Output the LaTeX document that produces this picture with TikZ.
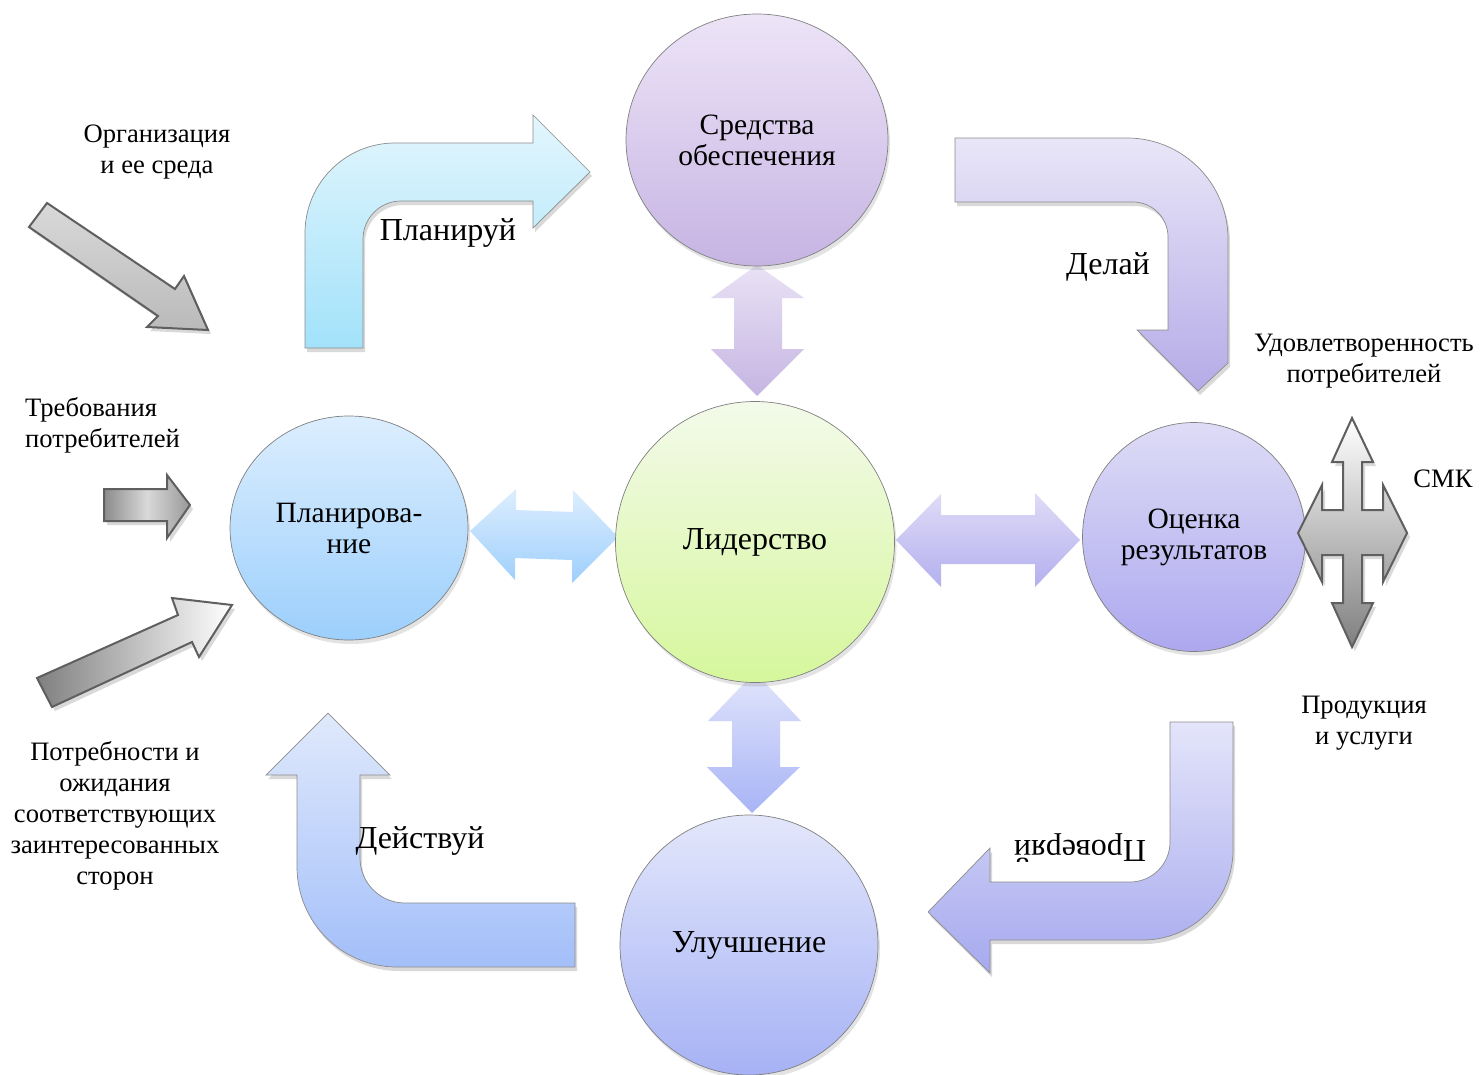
\documentclass[tikz,border=0pt]{standalone}
\usepackage{fontspec}
\setmainfont{Liberation Serif}
\usetikzlibrary{shapes.geometric,shadows}
\definecolor{sredT}{HTML}{EDE4F7}
\definecolor{sredB}{HTML}{C6B4E3}
\definecolor{lidT}{HTML}{F3FAEA}
\definecolor{lidB}{HTML}{D6F79C}
\definecolor{planT}{HTML}{DCEEFE}
\definecolor{planB}{HTML}{9CCFFC}
\definecolor{ocT}{HTML}{DEDCF6}
\definecolor{ocB}{HTML}{ADA8EF}
\definecolor{ulT}{HTML}{E3E7FB}
\definecolor{ulB}{HTML}{A6B2F5}
\definecolor{aTopT}{HTML}{E9E2F5}
\definecolor{aTopB}{HTML}{C5B5E2}
\definecolor{aLeftT}{HTML}{DDEEFE}
\definecolor{aLeftB}{HTML}{9ECFFC}
\definecolor{aRightT}{HTML}{DFDBF7}
\definecolor{aRightB}{HTML}{B4B0EE}
\definecolor{aBotT}{HTML}{E1E5FB}
\definecolor{aBotB}{HTML}{A8B4F6}
\definecolor{bPlanT}{HTML}{E3F6FD}
\definecolor{bPlanB}{HTML}{A2E2FA}
\definecolor{bDelT}{HTML}{E9E6F8}
\definecolor{bDelB}{HTML}{B5ABE7}
\definecolor{bProvT}{HTML}{E4E5FA}
\definecolor{bProvB}{HTML}{A6A9EE}
\definecolor{bDeiT}{HTML}{E0E9FC}
\definecolor{bDeiB}{HTML}{A3BFF9}
\definecolor{grayline}{HTML}{5F5F5F}
\begin{document}
\begin{tikzpicture}[x=1pt,y=-1pt,
  circ/.style={ellipse, draw=black!50, line width=0.7pt, inner sep=0pt, align=center,
    font=\fontsize{29.5}{31}\selectfont,
    drop shadow={opacity=0.22, shadow xshift=2pt, shadow yshift=-4pt}},
  lbl/.style={align=center, inner sep=0pt, font=\fontsize{26.6}{31}\selectfont},
  arrword/.style={inner sep=0pt, font=\fontsize{32}{32}\selectfont},
  bent/.style={draw=black!45, line width=0.7pt},
  shad/.style={fill=black, opacity=0.15},
  grayarr/.style={draw=grayline, line width=2pt, line join=miter}]
\useasboundingbox (0,0) rectangle (1480,1074);
\fill[white] (0,0) rectangle (1480,1074);

% ---------- bent arrows ----------
\def\pathPlan{(305,348) -- (305,233) .. controls (305,183.3) and (345.3,143) .. (395,143) -- (533,143) -- (533,115) -- (590,172) -- (533,228) -- (533,201) -- (401,201) .. controls (380,201) and (363,218) .. (363,239) -- (363,348) -- cycle}
\def\pathDel{(955,138) -- (1127,138) .. controls (1182.8,138) and (1228,183.2) .. (1228,239) -- (1228,363) -- (1198,391) -- (1137,330) -- (1168,330) -- (1168,237) .. controls (1168,217.7) and (1152.3,202) .. (1133,202) -- (955,202) -- cycle}
\def\pathProv{(1170,722) -- (1233,722) -- (1233,850) .. controls (1233,899.7) and (1192.7,940) .. (1143,940) -- (990,940) -- (990,973) -- (928,912) -- (990,848) -- (990,882) -- (1130,882) .. controls (1152.1,882) and (1170,864.1) .. (1170,842) -- cycle}
\def\pathDei{(328,713) -- (390,775) -- (360,775) -- (360,858) .. controls (360,882.9) and (380.1,903) .. (405,903) -- (575,903) -- (575,967) -- (397,967) .. controls (341.8,967) and (297,922.2) .. (297,867) -- (297,775) -- (266,775) -- cycle}

\fill[shad, shift={(2,4)}] \pathPlan;
\fill[shad, shift={(2,4)}] \pathDel;
\fill[shad, shift={(2,4)}] \pathProv;
\fill[shad, shift={(2,4)}] \pathDei;
\path[bent, top color=bPlanT, bottom color=bPlanB] \pathPlan;
\path[bent, top color=bDelT, bottom color=bDelB] \pathDel;
\path[bent, top color=bProvT, bottom color=bProvB] \pathProv;
\path[bent, top color=bDeiT, bottom color=bDeiB] \pathDei;

% ---------- double arrows ----------
\path[top color=aTopT, bottom color=aTopB]
  (757,265) -- (804,298) -- (782,298) -- (782,349) -- (804,349) -- (757,396) -- (711,349) -- (734,349) -- (734,298) -- (711,298) -- cycle;
\path[top color=aLeftT, bottom color=aLeftB]
  (470,531) -- (516,489) -- (516,510) -- (573,512) -- (573,490) -- (618,537) -- (572,583) -- (572,560) -- (515,558) -- (515,580) -- cycle;
\path[top color=aRightT, bottom color=aRightB]
  (896,540) -- (941,494) -- (941,515) -- (1035,515) -- (1035,493) -- (1080,540) -- (1035,587) -- (1035,564) -- (941,564) -- (941,587) -- cycle;
\path[top color=aBotT, bottom color=aBotB]
  (755,672) -- (801,721) -- (780,721) -- (780,767) -- (800,767) -- (752,813) -- (707,767) -- (732,767) -- (732,721) -- (708,721) -- cycle;

% ---------- circles ----------
\node[circ, top color=sredT, bottom color=sredB, minimum width=262pt, minimum height=252pt] (sred) at (757,140) {Средства\\обеспечения};
\node[circ, top color=lidT, bottom color=lidB, minimum width=279pt, minimum height=281pt, font=\fontsize{32}{32}\selectfont] (lid) at (755,542) {Лидерство};
\node[circ, top color=planT, bottom color=planB, minimum width=238pt, minimum height=224pt] (plan) at (349,528) {Планирова-\\ние};
\node[circ, top color=ocT, bottom color=ocB, minimum width=223pt, minimum height=229pt] (oc) at (1194,537) {Оценка\\результатов};
\node[circ, top color=ulT, bottom color=ulB, minimum width=258pt, minimum height=260pt, font=\fontsize{32}{32}\selectfont] (ul) at (749,945) {Улучшение};

% ---------- gray input arrows ----------
\def\pathGa{(29,227) -- (47,203) -- (175,289) -- (184,276) -- (208,330) -- (147,327) -- (158,316) -- cycle}
\def\pathGb{(104,489) -- (167,489) -- (167,475) -- (190,505) -- (167,538) -- (167,521) -- (104,521) -- cycle}
\def\pathGc{(37,678) -- (178,615) -- (172,598) -- (232,605) -- (199,657) -- (192,642) -- (52,707) -- cycle}
\def\pathCmk{(1352,418) -- (1373,462) -- (1362,462) -- (1362,510) -- (1383,510) -- (1383,485) -- (1407,533) -- (1383,582) -- (1383,555) -- (1362,555) -- (1362,603) -- (1373,603) -- (1352,647) -- (1332,603) -- (1343,603) -- (1343,555) -- (1322,555) -- (1322,582) -- (1298,533) -- (1322,485) -- (1322,510) -- (1343,510) -- (1343,462) -- (1332,462) -- cycle}
\fill[shad, shift={(3,4)}] \pathGa;
\fill[shad, shift={(3,4)}] \pathGb;
\fill[shad, shift={(3,4)}] \pathGc;
\fill[shad, shift={(3,4)}] \pathCmk;
\path[grayarr, top color=black!15, bottom color=black!27] \pathGa;
\path[grayarr, left color=black!45, right color=black!40, middle color=black!15] \pathGb;
\path[grayarr, left color=black!50, right color=white] \pathGc;
\path[grayarr, top color=white, bottom color=black!50] \pathCmk;

% ---------- arrow words ----------
\node[arrword] (planw) at (448,233) {Планируй};
\node[arrword] (delw) at (1108,267) {Делай};
\node[arrword] (deiw) at (420,841) {Действуй};
\node[arrword, rotate=180] (provw) at (1080,848) {Проверяй};

% ---------- side labels ----------
\node[lbl] (org) at (157,152) {Организация\\и ее среда};
\node[lbl, align=left, anchor=west] (treb) at (25,425) {Требования\\потребителей};
\node[lbl] (potr) at (115,816) {Потребности и\\ожидания\\соответствующих\\заинтересованных\\сторон};
\node[lbl] (udov) at (1364,361) {Удовлетворенность\\потребителей};
\node[lbl] (smk) at (1443,479) {СМК};
\node[lbl] (prod) at (1364,723) {Продукция\\и услуги};
\end{tikzpicture}
\end{document}
